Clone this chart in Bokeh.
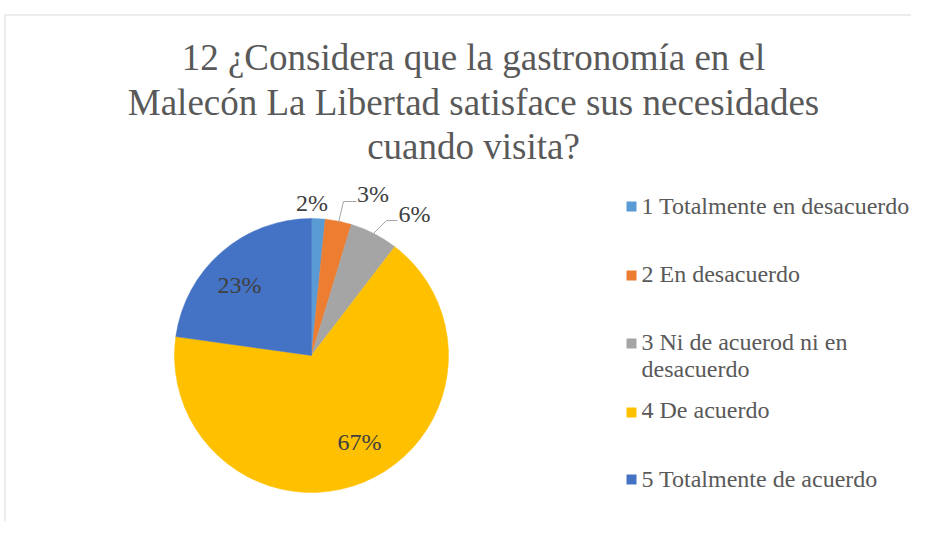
import math
from bokeh.plotting import figure
from bokeh.models import Range1d, ColumnDataSource
from bokeh.core.properties import value
from bokeh.embed import file_html
from bokeh.resources import INLINE

# ---- data ----
categories = ["1 Totalmente en desacuerdo", "2 En desacuerdo",
              "3 Ni de acuerod ni en desacuerdo", "4 De acuerdo",
              "5 Totalmente de acuerdo"]
legend_lines = [["1 Totalmente en desacuerdo"], ["2 En desacuerdo"],
                ["3 Ni de acuerod ni en", "desacuerdo"], ["4 De acuerdo"],
                ["5 Totalmente de acuerdo"]]
percent = [1.6, 3.1, 5.7, 66.8, 22.8]
colors = ["#5B9BD5", "#ED7D31", "#A5A5A5", "#FFC000", "#4472C4"]
title_lines = ["12 ¿Considera que la gastronomía en el",
               "Malecón La Libertad satisface sus necesidades",
               "cuando visita?"]

W, H = 911, 521
def Y(py):
    return 537 - py

p = figure(width=W, height=H, output_backend="svg", toolbar_location=None,
           x_range=Range1d(0, W), y_range=Range1d(537 - H, 537),
           min_border=0)
p.axis.visible = False
p.grid.visible = False
p.outline_line_color = None
p.background_fill_color = "white"
p.border_fill_color = "white"

FONT = value("Liberation Serif")
S_SMALL = 8.5   # baseline correction for 24px text
S_BIG = 12.0    # baseline correction for 37px text

# chart border (top and left visible)
p.line([4.5, W + 20], [Y(14.5), Y(14.5)], line_color="#d9d9d9", line_width=1)
p.line([4.5, 4.5], [Y(14.5), Y(560)], line_color="#d9d9d9", line_width=1)

# pie
cx, cy, R = 311, Y(355), 137
total = sum(percent)
starts, ends = [], []
cum = 0.0
for v in percent:
    a0 = math.pi / 2 - 2 * math.pi * cum / total
    cum += v
    a1 = math.pi / 2 - 2 * math.pi * cum / total
    starts.append(a1)
    ends.append(a0)
src = ColumnDataSource(dict(start=starts, end=ends, color=colors))
p.wedge(x=cx, y=cy, radius=R, start_angle="start", end_angle="end",
        direction="anticlock", fill_color="color", line_color="color",
        line_width=0.5, source=src)

# data labels (annotation positions)
lab_pos = [(311.5, 211), (372.5, 202), (414, 222), (359, 450), (239, 293)]
labels = [f"{round(v)}%" for v in percent]
p.text(x=[q[0] for q in lab_pos], y=[Y(q[1] - S_SMALL) for q in lab_pos], text=labels,
       text_font=FONT, text_font_size=value("24px"), text_color="#404040",
       text_align="center", text_baseline="alphabetic")

# leader lines
p.line([338, 343, 356], [Y(222), Y(201), Y(201)], line_color="#a6a6a6", line_width=1)
p.line([373, 386, 397], [Y(233), Y(220), Y(220)], line_color="#a6a6a6", line_width=1)

# title
p.text(x=[473] * 3, y=[Y(69 - S_BIG), Y(113.5 - S_BIG), Y(158 - S_BIG)], text=title_lines,
       text_font=FONT, text_font_size=value("37px"), text_color="#595959",
       text_align="center", text_baseline="alphabetic")

# legend
marker_y = [206, 275, 343, 412, 479]
base_y = [214, 282, 350, 418, 487]
p.scatter(x=[631] * 5, y=[Y(m) for m in marker_y], marker="square", size=10,
          fill_color=colors, line_color=None)
lx, ly, lt = [], [], []
for i, lines in enumerate(legend_lines):
    for j, t in enumerate(lines):
        lx.append(641)
        ly.append(Y(base_y[i] + 27 * j - S_SMALL))
        lt.append(t)
p.text(x=lx, y=ly, text=lt, text_font=FONT, text_font_size=value("24px"),
       text_color="#595959", text_align="left", text_baseline="alphabetic")

open("out.html", "w").write(file_html(p, INLINE))
